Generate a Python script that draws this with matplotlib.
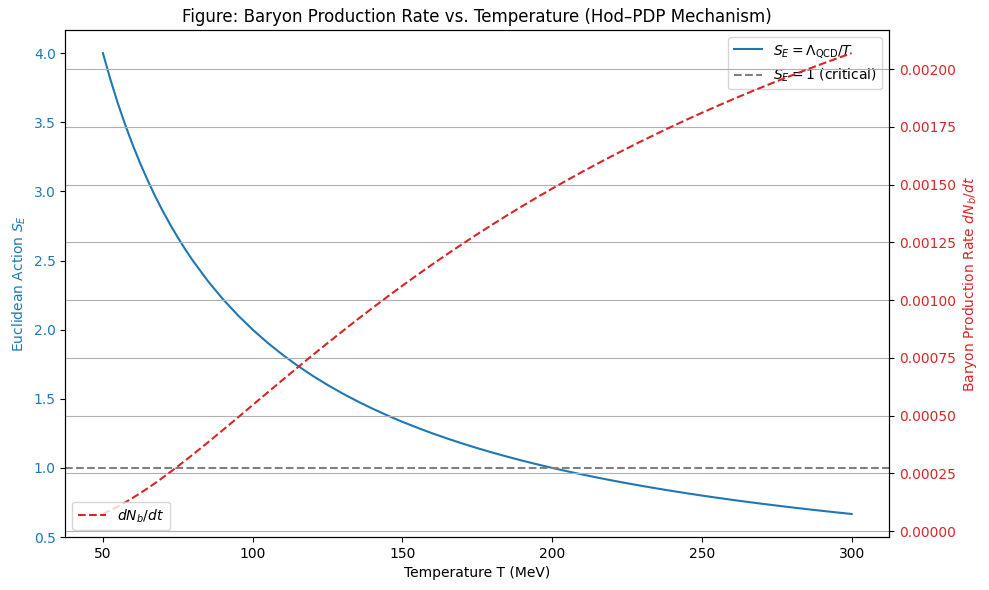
import matplotlib
matplotlib.use('Agg')
import matplotlib.pyplot as plt

# temperature grid (MeV)
T = [50, 52.5, 55, 57.5, 60, 62.5, 65, 67.5, 70, 72.5, 75, 77.5, 80,
     85, 90, 95, 100, 105, 110, 115, 120, 125, 130, 135, 140, 145, 150,
     155, 160, 165, 170, 175, 180, 185, 190, 195, 200, 205, 210, 215, 220,
     225, 230, 235, 240, 245, 250, 255, 260, 265, 270, 275, 280, 285, 290,
     295, 300]

# Euclidean action S_E
S_E = [4.0000, 3.8095, 3.6364, 3.4783, 3.3333, 3.2000, 3.0769, 2.9630,
       2.8571, 2.7586, 2.6667, 2.5806, 2.5000,
       2.3529, 2.2222, 2.1053, 2.0000, 1.9048, 1.8182, 1.7391, 1.6667,
       1.6000, 1.5385, 1.4815, 1.4286, 1.3793, 1.3333, 1.2903, 1.2500,
       1.2121, 1.1765, 1.1429, 1.1111, 1.0811, 1.0526, 1.0256, 1.0000,
       0.9756, 0.9524, 0.9302, 0.9091, 0.8889, 0.8696, 0.8511, 0.8333,
       0.8163, 0.8000, 0.7843, 0.7692, 0.7547, 0.7407, 0.7273, 0.7143,
       0.7018, 0.6897, 0.6780, 0.6667]

# baryon production rate
rate = [0.0000738, 0.0000893, 0.0001062, 0.0001244, 0.0001438, 0.0001643,
        0.0001858, 0.0002082, 0.0002315, 0.0002554, 0.0002800, 0.0003052,
        0.0003308,
        0.0003832, 0.0004367, 0.0004908, 0.0005454, 0.0005999, 0.0006542,
        0.0007080, 0.0007612, 0.0008136, 0.0008652, 0.0009160, 0.0009658,
        0.0010145, 0.0010623, 0.0011089, 0.0011546, 0.0011992, 0.0012427,
        0.0012852, 0.0013266, 0.0013671, 0.0014065, 0.0014450, 0.0014826,
        0.0015191, 0.0015549, 0.0015896, 0.0016236, 0.0016568, 0.0016891,
        0.0017206, 0.0017514, 0.0017815, 0.0018108, 0.0018394, 0.0018674,
        0.0018947, 0.0019213, 0.0019475, 0.0019728, 0.0019978, 0.0020221,
        0.0020459, 0.0020691]

S_crit = 1.0

fig, ax1 = plt.subplots(figsize=(9.89, 5.9), dpi=100)

ax1.plot(T, S_E, color='tab:blue', label=r'$S_E = \Lambda_{\mathrm{QCD}}/T$')
ax1.axhline(S_crit, color='gray', linestyle='--', label=r'$S_E = 1$ (critical)')
ax1.set_xlabel('Temperature T (MeV)')
ax1.set_ylabel(r'Euclidean Action $S_E$', color='tab:blue')
ax1.tick_params(axis='y', labelcolor='tab:blue')
ax1.set_ylim(0.5, 4.1667)
ax1.legend(loc='upper right')

ax2 = ax1.twinx()
ax2.plot(T, rate, color='tab:red', linestyle='--', label=r'$dN_b/dt$')
ax2.set_ylabel(r'Baryon Production Rate $dN_b/dt$', color='tab:red')
ax2.tick_params(axis='y', labelcolor='tab:red')
ax2.legend(loc='lower left')
ax2.grid(True)

plt.title('Figure: Baryon Production Rate vs. Temperature (Hod–PDP Mechanism)')
fig.subplots_adjust(left=0.0662, right=0.899, top=0.949, bottom=0.0898)
fig.savefig('out.png')
